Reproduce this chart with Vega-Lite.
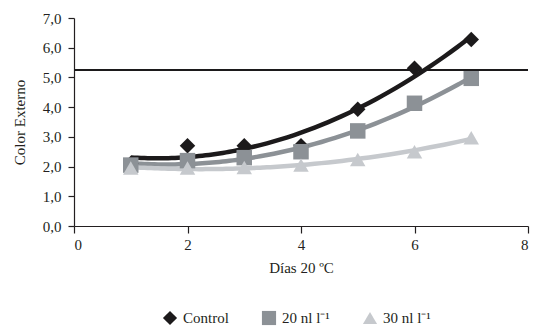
{
  "$schema": "https://vega.github.io/schema/vega-lite/v6.json",
  "width": 454,
  "height": 208,
  "autosize": {"type": "none"},
  "padding": {"left": 74, "top": 18, "right": 6, "bottom": 101},
  "background": "white",
  "config": {
    "view": {"stroke": null},
    "font": "Liberation Serif"
  },
  "data": {
    "values": [
      {"dia": 1, "serie": "Control", "color": 2.1},
      {"dia": 2, "serie": "Control", "color": 2.7},
      {"dia": 3, "serie": "Control", "color": 2.7},
      {"dia": 4, "serie": "Control", "color": 2.7},
      {"dia": 5, "serie": "Control", "color": 3.93},
      {"dia": 6, "serie": "Control", "color": 5.31},
      {"dia": 7, "serie": "Control", "color": 6.28},
      {"dia": 1, "serie": "20 nl l⁻¹", "color": 2.05},
      {"dia": 2, "serie": "20 nl l⁻¹", "color": 2.2},
      {"dia": 3, "serie": "20 nl l⁻¹", "color": 2.3},
      {"dia": 4, "serie": "20 nl l⁻¹", "color": 2.5},
      {"dia": 5, "serie": "20 nl l⁻¹", "color": 3.2},
      {"dia": 6, "serie": "20 nl l⁻¹", "color": 4.13},
      {"dia": 7, "serie": "20 nl l⁻¹", "color": 4.97},
      {"dia": 1, "serie": "30 nl l⁻¹", "color": 1.95},
      {"dia": 2, "serie": "30 nl l⁻¹", "color": 1.95},
      {"dia": 3, "serie": "30 nl l⁻¹", "color": 1.97},
      {"dia": 4, "serie": "30 nl l⁻¹", "color": 2.05},
      {"dia": 5, "serie": "30 nl l⁻¹", "color": 2.24},
      {"dia": 6, "serie": "30 nl l⁻¹", "color": 2.5},
      {"dia": 7, "serie": "30 nl l⁻¹", "color": 2.97}
    ]
  },
  "encoding": {
    "x": {
      "field": "dia",
      "type": "quantitative",
      "scale": {"domain": [0, 8], "nice": false},
      "axis": {
        "values": [0, 2, 4, 6, 8],
        "format": "d",
        "title": "Días 20 ºC",
        "grid": false,
        "domainColor": "#231f20",
        "tickColor": "#231f20",
        "domainWidth": 1.2,
        "tickWidth": 1.2,
        "tickSize": 7,
        "labelFont": "Liberation Serif",
        "labelFontSize": 15,
        "labelColor": "#231f20",
        "labelPadding": 4,
        "titleFont": "Liberation Serif",
        "titleFontSize": 15,
        "titleFontWeight": "normal",
        "titleColor": "#231f20",
        "titlePadding": 8
      }
    },
    "y": {
      "field": "color",
      "type": "quantitative",
      "scale": {"domain": [0, 7], "nice": false},
      "axis": {
        "values": [0, 1, 2, 3, 4, 5, 6, 7],
        "labelExpr": "replace(format(datum.value, '.1f'), '.', ',')",
        "labelOverlap": false,
        "title": "Color Externo",
        "grid": false,
        "domainColor": "#231f20",
        "tickColor": "#231f20",
        "domainWidth": 1.2,
        "tickWidth": 1.2,
        "tickSize": 6,
        "labelFont": "Liberation Serif",
        "labelFontSize": 15,
        "labelColor": "#231f20",
        "labelPadding": 7,
        "titleFont": "Liberation Serif",
        "titleFontSize": 15,
        "titleFontWeight": "normal",
        "titleColor": "#231f20",
        "titlePadding": 15
      }
    }
  },
  "layer": [
    {
      "transform": [
        {"regression": "color", "on": "dia", "groupby": ["serie"], "method": "poly", "order": 2}
      ],
      "mark": {"type": "line", "strokeWidth": 4.5, "interpolate": "monotone"},
      "encoding": {
        "stroke": {
          "field": "serie",
          "type": "nominal",
          "scale": {"domain": ["Control", "20 nl l⁻¹", "30 nl l⁻¹"], "range": ["#1c1a1b", "#8c9196", "#c6c9cd"]},
          "legend": null
        }
      }
    },
    {
      "mark": {"type": "point", "filled": true, "opacity": 1, "size": 240},
      "encoding": {
        "color": {
          "field": "serie",
          "type": "nominal",
          "scale": {"domain": ["Control", "20 nl l⁻¹", "30 nl l⁻¹"], "range": ["#1c1a1b", "#8c9196", "#c6c9cd"]},
          "legend": {
            "title": null,
            "orient": "none",
            "direction": "horizontal",
            "legendX": 88,
            "legendY": 292,
            "columnPadding": 32,
            "symbolSize": 200,
            "labelOffset": 5,
            "labelFont": "Liberation Serif",
            "labelFontSize": 15,
            "labelColor": "#231f20"
          }
        },
        "shape": {
          "field": "serie",
          "type": "nominal",
          "scale": {"domain": ["Control", "20 nl l⁻¹", "30 nl l⁻¹"], "range": ["diamond", "square", "triangle-up"]}
        }
      }
    },
    {
      "mark": {"type": "rule", "color": "#1c1a1b", "strokeWidth": 2},
      "encoding": {"y": {"datum": 5.25}, "x": {"value": 0}, "x2": {"value": 454}}
    }
  ],
  "resolve": {"scale": {"stroke": "independent"}, "legend": {"stroke": "independent"}}
}
